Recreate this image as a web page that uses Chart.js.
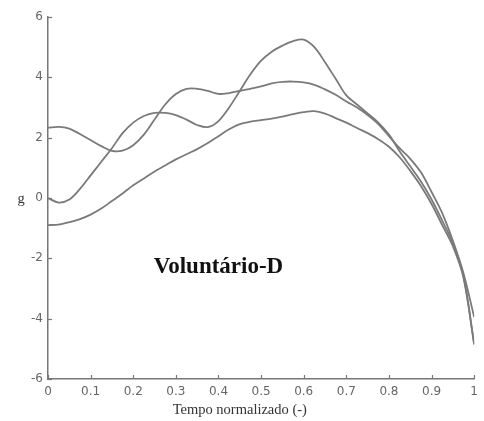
<!DOCTYPE html>
<html>
<head>
<meta charset="utf-8">
<script src="https://cdn.jsdelivr.net/npm/chart.js@4/dist/chart.umd.min.js"></script>
<style>
  html, body { margin: 0; padding: 0; background: #fff; }
  #wrap { width: 484px; height: 421px; }
</style>
</head>
<body>
<div id="wrap"><canvas id="chart" width="484" height="421"></canvas></div>
<script>
// tempo normalizado (eixo x)
var tempo = [0, 0.025, 0.05, 0.075, 0.1, 0.125, 0.15, 0.175, 0.2, 0.225,
             0.25, 0.275, 0.3, 0.325, 0.35, 0.375, 0.4, 0.425, 0.45, 0.475,
             0.5, 0.525, 0.55, 0.575, 0.6, 0.625, 0.65, 0.675, 0.7, 0.725,
             0.75, 0.775, 0.8, 0.825, 0.85, 0.875, 0.9, 0.925, 0.95, 0.975, 1];

// curva que começa em ~2.3
var ensaio1 = [2.33, 2.36, 2.3, 2.12, 1.92, 1.72, 1.56, 1.57, 1.75, 2.1,
               2.6, 3.1, 3.45, 3.62, 3.62, 3.55, 3.45, 3.48, 3.55, 3.62,
               3.7, 3.8, 3.85, 3.86, 3.83, 3.75, 3.6, 3.42, 3.2, 3.0,
               2.75, 2.45, 2.05, 1.65, 1.3, 0.85, 0.2, -0.5, -1.42, -2.5, -3.95];

// curva que começa em 0 (pico ~5.25)
var ensaio2 = [0.0, -0.15, -0.05, 0.3, 0.75, 1.2, 1.65, 2.15, 2.5, 2.72,
               2.82, 2.82, 2.75, 2.6, 2.42, 2.35, 2.55, 3.0, 3.55, 4.1,
               4.55, 4.85, 5.05, 5.2, 5.25, 5.0, 4.5, 3.95, 3.4, 3.1,
               2.8, 2.5, 2.1, 1.55, 1.05, 0.55, -0.05, -0.75, -1.5, -2.6, -4.85];

// curva que começa em ~-0.9
var ensaio3 = [-0.9, -0.88, -0.8, -0.7, -0.55, -0.35, -0.1, 0.15, 0.42, 0.65,
               0.88, 1.08, 1.28, 1.45, 1.62, 1.82, 2.05, 2.28, 2.45, 2.53,
               2.58, 2.63, 2.7, 2.78, 2.85, 2.88, 2.8, 2.65, 2.5, 2.32,
               2.15, 1.95, 1.7, 1.35, 0.9, 0.4, -0.2, -0.9, -1.6, -2.65, -4.85];

var xTicks = [0, 0.1, 0.2, 0.3, 0.4, 0.5, 0.6, 0.7, 0.8, 0.9, 1];
var yTicks = [-6, -4, -2, 0, 2, 4, 6];

var corLinha = '#7a7a7a';
var corEixo = '#777777';

function pontos(serie) {
    return tempo.map(function (t, i) { return { x: t, y: serie[i] }; });
}

function dataset(serie) {
    return {
        data: pontos(serie),
        borderColor: corLinha,
        borderWidth: 1.8,
        pointRadius: 0,
        tension: 0.35,
        fill: false
    };
}

// marcas de escala para dentro + textos
var decoracao = {
    id: 'decoracao',
    afterDraw: function (chart) {
        var ctx = chart.ctx;
        var xs = chart.scales.x, ys = chart.scales.y, a = chart.chartArea;
        ctx.save();
        ctx.strokeStyle = corEixo;
        ctx.lineWidth = 1.2;
        xTicks.forEach(function (v) {
            var px = Math.round(xs.getPixelForValue(v)) + 0.5;
            ctx.beginPath(); ctx.moveTo(px, a.bottom); ctx.lineTo(px, a.bottom - 4); ctx.stroke();
        });
        yTicks.forEach(function (v) {
            var py = Math.round(ys.getPixelForValue(v)) + 0.5;
            ctx.beginPath(); ctx.moveTo(a.left, py); ctx.lineTo(a.left + 4, py); ctx.stroke();
        });

        ctx.fillStyle = '#111';
        ctx.textAlign = 'center';
        ctx.textBaseline = 'middle';
        ctx.font = 'bold 23px "Liberation Serif"';
        ctx.fillText('Voluntário-D', xs.getPixelForValue(0.4), ys.getPixelForValue(-2.28));

        ctx.fillStyle = '#333';
        ctx.font = '14.5px "Liberation Serif"';
        ctx.fillText('Tempo normalizado (-)', xs.getPixelForValue(0.45), a.bottom + 31);
        ctx.fillText('g', a.left - 27, ys.getPixelForValue(0) + 1);
        ctx.restore();
    }
};

new Chart(document.getElementById('chart'), {
    type: 'line',
    data: { datasets: [dataset(ensaio1), dataset(ensaio2), dataset(ensaio3)] },
    options: {
        responsive: false,
        animation: false,
        layout: { padding: { left: 0, right: 2, top: 17, bottom: 0 } },
        plugins: { legend: { display: false }, tooltip: { enabled: false } },
        scales: {
            x: {
                type: 'linear',
                min: 0, max: 1,
                afterFit: function (s) { s.height = 42; },
                afterBuildTicks: function (s) { s.ticks = xTicks.map(function (v) { return { value: v }; }); },
                grid: { display: false, drawTicks: false },
                border: { display: true, color: corEixo, width: 1.5 },
                ticks: {
                    autoSkip: false, maxRotation: 0, padding: 6,
                    color: '#666', font: { family: 'DejaVu Sans', size: 12 },
                    callback: function (v) { return String(Number(v.toFixed(1))); }
                }
            },
            y: {
                min: -6, max: 6,
                afterFit: function (s) { s.width = 48; },
                afterBuildTicks: function (s) { s.ticks = yTicks.map(function (v) { return { value: v }; }); },
                grid: { display: false, drawTicks: false },
                border: { display: true, color: corEixo, width: 1.5 },
                ticks: {
                    padding: 5,
                    color: '#666', font: { family: 'DejaVu Sans', size: 12 }
                }
            }
        }
    },
    plugins: [decoracao]
});
</script>
</body>
</html>
